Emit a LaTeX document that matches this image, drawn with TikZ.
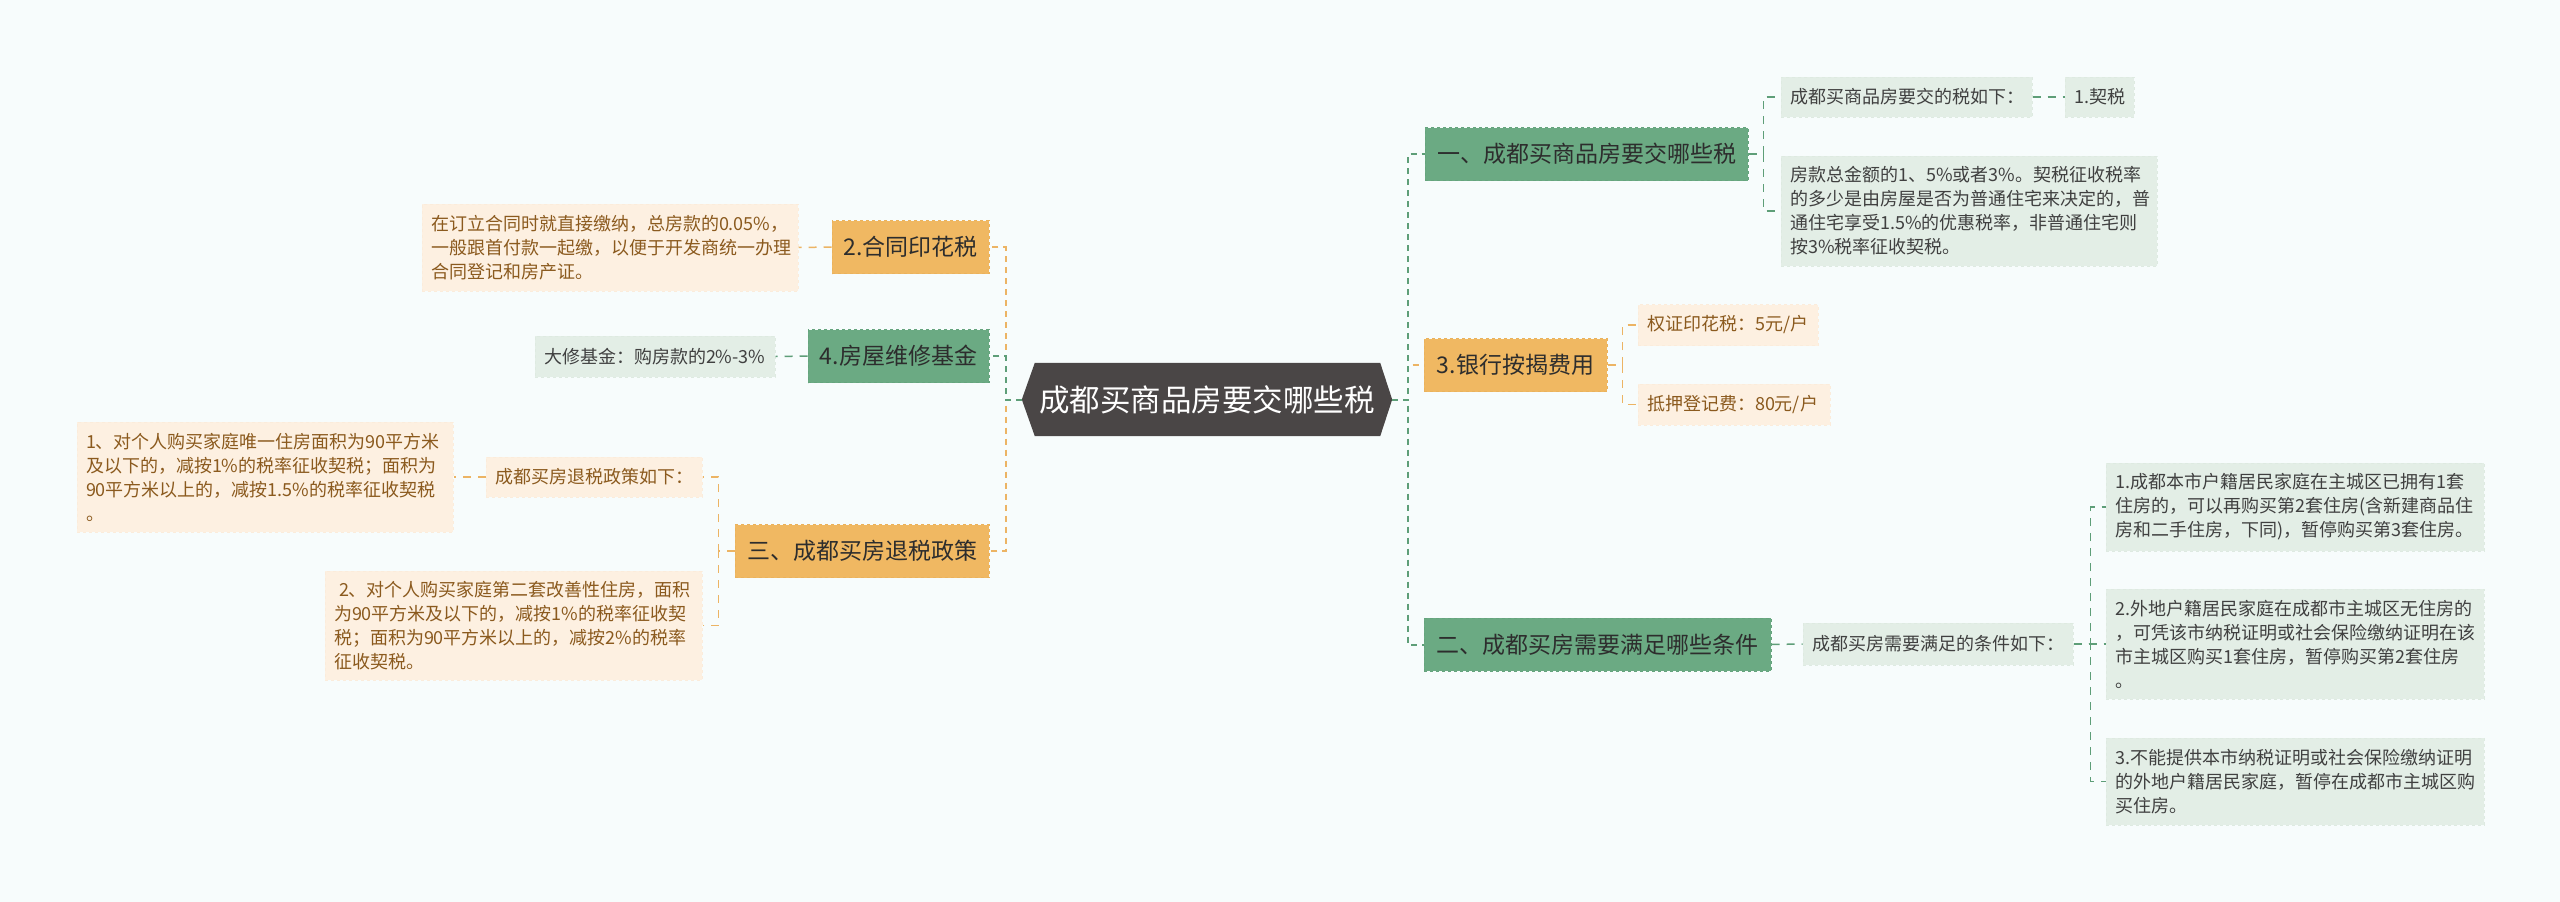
\documentclass[tikz,border=0pt]{standalone}
\usepackage{fontspec}
\setmainfont{Noto Sans CJK SC}
\usetikzlibrary{backgrounds}
\definecolor{bgc}{RGB}{247,252,252}
\definecolor{rootfill}{RGB}{74,70,70}
\definecolor{orfill}{RGB}{240,184,98}
\definecolor{ordraw}{RGB}{234,178,92}
\definecolor{grfill}{RGB}{107,170,131}
\definecolor{grdraw}{RGB}{101,164,125}
\definecolor{lofill}{RGB}{253,240,225}
\definecolor{lodraw}{RGB}{251,236,219}
\definecolor{lgfill}{RGB}{227,238,230}
\definecolor{lgdraw}{RGB}{222,234,225}
\definecolor{orline}{RGB}{236,180,100}
\definecolor{grline}{RGB}{94,158,120}
\definecolor{browntext}{RGB}{139,90,30}
\definecolor{gtext}{RGB}{64,64,64}
\definecolor{darktext}{RGB}{45,45,45}
\tikzset{
  mainbox/.style={draw, dashed, line width=1pt, minimum height=53pt, inner sep=0pt,
    font=\fontsize{23}{28}\selectfont, text=darktext},
  orangebox/.style={mainbox, fill=orfill, draw=ordraw},
  greenbox/.style={mainbox, fill=grfill, draw=grdraw},
  subbox/.style={dashed, line width=1pt, inner xsep=9pt, inner ysep=0pt, align=left,
    font=\fontsize{18}{24}\selectfont},
  osub/.style={subbox, fill=lofill, draw=lodraw, text=browntext},
  gsub/.style={subbox, fill=lgfill, draw=lgdraw, text=gtext},
  oline/.style={draw=orline, line width=2pt, dash pattern=on 6pt off 5pt},
  gline/.style={draw=grline, line width=2pt, dash pattern=on 6pt off 5pt},
  olines/.style={draw=orline, line width=1.5pt, dash pattern=on 8pt off 7pt},
  glines/.style={draw=grline, line width=1.5pt, dash pattern=on 8pt off 7pt},
}
\begin{document}
\begin{tikzpicture}[x=1pt,y=-1pt]
\begin{scope}[on background layer]
\fill[bgc] (0,0) rectangle (2560,902);
\end{scope}
\useasboundingbox (0,0) rectangle (2560,902);

% root
\node[minimum width=370pt, minimum height=73pt, inner sep=0pt, text=white,
  font=\fontsize{30.5}{34}\selectfont] (root) at (1207,399.5) {成都买商品房要交哪些税};
\begin{scope}[on background layer]
\fill[rootfill] (root.west) -- ([xshift=13pt]root.north west) -- ([xshift=-12pt]root.north east)
  -- (root.east) -- ([xshift=-12pt]root.south east) -- ([xshift=13pt]root.south west) -- cycle;
\end{scope}

% left main
\node[orangebox, minimum width=157pt] (he) at (910.5,247) {2.合同印花税};
\node[greenbox, minimum width=181pt] (wx) at (898.5,356) {4.房屋维修基金};
\node[orangebox, minimum width=254pt] (san) at (862,551) {三、成都买房退税政策};

% right main
\node[greenbox, minimum width=323pt] (yi) at (1586.5,154) {一、成都买商品房要交哪些税};
\node[orangebox, minimum width=183pt] (yh) at (1515.5,365) {3.银行按揭费用};
\node[greenbox, minimum width=347pt] (er) at (1597.5,644.5) {二、成都买房需要满足哪些条件};

% left sub
\node[osub, text width=358pt, minimum height=87pt] (hec) at (610,247.5)
  {在订立合同时就直接缴纳，总房款的0.05\%，\\一般跟首付款一起缴，以便于开发商统一办理\\合同登记和房产证。};
\node[gsub, text width=222pt, minimum height=41pt] (dx) at (655,356.5) {大修基金：购房款的2\%-3\%};
\node[osub, text width=198pt, minimum height=40pt] (ts) at (594,477) {成都买房退税政策如下：};
\node[osub, text width=358pt, minimum height=110pt] (ts1) at (265,477)
  {1、对个人购买家庭唯一住房面积为90平方米\\及以下的，减按1\%的税率征收契税；面积为\\90平方米以上的，减按1.5\%的税率征收契税\\。};
\node[osub, text width=359pt, minimum height=109pt] (ts2) at (513.5,625.5)
  {\hspace*{5pt}2、对个人购买家庭第二套改善性住房，面积\\为90平方米及以下的，减按1\%的税率征收契\\税；面积为90平方米以上的，减按2\%的税率\\征收契税。};

% right sub
\node[gsub, text width=233pt, minimum height=40pt] (yi1) at (1906.5,97) {成都买商品房要交的税如下：};
\node[gsub, text width=51pt, minimum height=40pt] (qs) at (2099.5,97) {1.契税};
\node[gsub, text width=358pt, minimum height=110pt] (fk) at (1969,211)
  {房款总金额的1、5\%或者3\%。契税征收税率\\的多少是由房屋是否为普通住宅来决定的，普\\通住宅享受1.5\%的优惠税率，非普通住宅则\\按3\%税率征收契税。};
\node[osub, text width=162pt, minimum height=41pt] (zq) at (1728,325) {权证印花税：5元/户};
\node[osub, text width=174pt, minimum height=41pt] (dy) at (1734,404.5) {抵押登记费：80元/户};
\node[gsub, text width=252pt, minimum height=42pt] (er1) at (1938,644) {成都买房需要满足的条件如下：};
\node[gsub, text width=360pt, minimum height=88pt] (e1) at (2295,507)
  {1.成都本市户籍居民家庭在主城区已拥有1套\\住房的，可以再购买第2套住房(含新建商品住\\房和二手住房，下同)，暂停购买第3套住房。};
\node[gsub, text width=360pt, minimum height=110pt] (e2) at (2295,644)
  {2.外地户籍居民家庭在成都市主城区无住房的\\，可凭该市纳税证明或社会保险缴纳证明在该\\市主城区购买1套住房，暂停购买第2套住房\\。};
\node[gsub, text width=360pt, minimum height=87pt] (e3) at (2295,781.5)
  {3.不能提供本市纳税证明或社会保险缴纳证明\\的外地户籍居民家庭，暂停在成都市主城区购\\买住房。};

% main connectors
\draw[oline] (root.west) -- ++(-16,0) |- (he.east);
\draw[oline] (root.west) -- ++(-16,0) |- (san.east);
\draw[gline] (root.west) -- ++(-16,0) |- (wx.east);
\draw[oline] (root.east) -- ++(16,0) |- (yh.west);
\draw[gline] (root.east) -- ++(16,0) |- (yi.west);
\draw[gline] (root.east) -- ++(16,0) |- (er.west);

% sub connectors
\draw[olines] (he.west) -- (hec.east);
\draw[glines] (wx.west) -- (dx.east);
\draw[olines] (san.west) -- ++(-16,0) |- (ts.east);
\draw[olines] (san.west) -- ++(-16,0) |- (ts2.east);
\draw[olines] (ts.west) -- (ts1.east);
\draw[glines] (yi.east) -- ++(15,0) |- (yi1.west);
\draw[glines] (yi.east) -- ++(15,0) |- (fk.west);
\draw[glines] (yi1.east) -- (qs.west);
\draw[olines] (yh.east) -- ++(15,0) |- (zq.west);
\draw[olines] (yh.east) -- ++(15,0) |- (dy.west);
\draw[glines] (er.east) -- (er1.west);
\draw[glines] (er1.east) -- ++(17,0) |- (e1.west);
\draw[glines] (er1.east) -- ++(17,0) |- (e2.west);
\draw[glines] (er1.east) -- ++(17,0) |- (e3.west);
\end{tikzpicture}
\end{document}
